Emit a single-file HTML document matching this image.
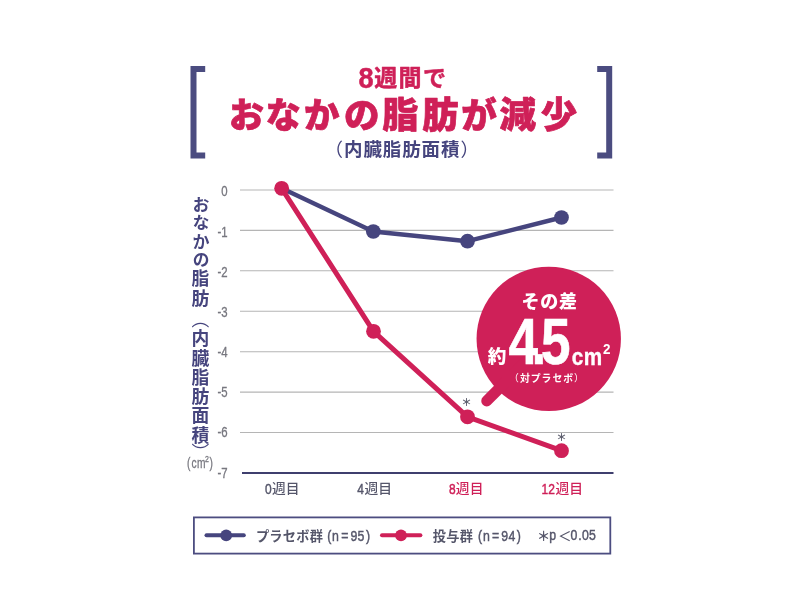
<!DOCTYPE html>
<html lang="ja">
<head>
<meta charset="utf-8">
<title>おなかの脂肪が減少</title>
<style>
html,body{margin:0;padding:0;background:#fff;}
body{width:800px;height:600px;position:relative;overflow:hidden;font-family:"Liberation Sans","Noto Sans CJK JP",sans-serif;}
svg{position:absolute;left:0;top:0;}
.jp{font-family:"Liberation Sans","Noto Sans CJK JP",sans-serif;}
.vlabel{position:absolute;left:184.5px;top:195.5px;width:28px;height:270px;writing-mode:vertical-rl;font-family:"Liberation Sans","Noto Sans CJK JP",sans-serif;font-weight:700;font-size:17.8px;line-height:28px;letter-spacing:1.45px;color:#46457e;white-space:nowrap;}
.vlabel span{display:inline;}
.vlabel .k{font-size:17px;letter-spacing:1.3px;}
.vlabel .p{font-weight:400;}
</style>
</head>
<body>
<svg width="800" height="600" viewBox="0 0 800 600">
  <!-- brackets -->
  <path d="M205.2 69H193.5V155.5H205.2" fill="none" stroke="#4b4c80" stroke-width="6"/>
  <path d="M597.2 69H609.2V155.5H597.2" fill="none" stroke="#4b4c80" stroke-width="6"/>

  <!-- titles -->
  <g fill="#cf2058" font-weight="700" stroke="#cf2058" stroke-width="0.5" stroke-linejoin="round">
    <text transform="translate(358.4 87.9) scale(0.93 1)" font-size="29.2">8</text>
    <text class="jp" x="374.3" y="86.2" font-size="23" letter-spacing="1.3">週間で</text>
  </g>
  <text class="jp" y="127.5" font-weight="900" fill="#cf2058" stroke="#cf2058" stroke-width="0.7" stroke-linejoin="round"><tspan x="228.90" font-size="35">お</tspan><tspan x="265.82" font-size="35">な</tspan><tspan x="304.04" font-size="35.5">か</tspan><tspan x="344.03" font-size="35.5">の</tspan><tspan x="382.28" font-size="36.3">脂</tspan><tspan x="422.13" font-size="36.3">肪</tspan><tspan x="461.22" font-size="35.5">が</tspan><tspan x="499.57" font-size="36.5">減</tspan><tspan x="540.75" font-size="36.3">少</tspan></text>
  <text class="jp" x="324.6" y="155.6" font-size="18.5" font-weight="700" letter-spacing="0.9" fill="#46457e"><tspan font-weight="400">（</tspan>内臓脂肪面積<tspan font-weight="400">）</tspan></text>

  <!-- grid -->
  <g stroke="#b5b5b5" stroke-width="1.1"><line x1="240" x2="613.5" y1="190" y2="190"/><line x1="240" x2="613.5" y1="230.4" y2="230.4"/><line x1="240" x2="613.5" y1="270.8" y2="270.8"/><line x1="240" x2="613.5" y1="311.3" y2="311.3"/><line x1="240" x2="613.5" y1="351.7" y2="351.7"/><line x1="240" x2="613.5" y1="392.1" y2="392.1"/><line x1="240" x2="613.5" y1="432.5" y2="432.5"/></g>
  <line x1="242" x2="613.5" y1="473" y2="473" stroke="#3f3f6e" stroke-width="2.2"/>

  <!-- y ticks -->
  <g font-size="15.4" fill="#77777f" stroke="#77777f" stroke-width="0.35" text-anchor="end" transform="translate(227.6 0) scale(0.74 1)"><text x="0" y="196.50">0</text><text x="0" y="236.66">-1</text><text x="0" y="276.82">-2</text><text x="0" y="316.98">-3</text><text x="0" y="357.14">-4</text><text x="0" y="397.30">-5</text><text x="0" y="437.46">-6</text><text x="0" y="477.62">-7</text></g>
  <text transform="translate(0 467.6) scale(0.74 1)" font-size="13.8" fill="#77777f" stroke="#77777f" stroke-width="0.3"><tspan x="252.6">(</tspan><tspan x="258.9">c</tspan><tspan x="266.1">m</tspan><tspan x="277.2" dy="-5.3" font-size="9.5">2</tspan><tspan x="283.1" dy="5.3">)</tspan></text>

  <!-- x labels -->
  <g fill="#55566a"><text transform="translate(0 493.6) scale(0.8 1)" x="331.27" font-size="15" stroke="#55566a" stroke-width="0.45">0</text><text class="jp" transform="translate(271.9 493.1) scale(1 0.93)" font-size="13.8" font-weight="500" letter-spacing="0.1">週目</text></g>
  <g fill="#55566a"><text transform="translate(0 493.6) scale(0.8 1)" x="446.57" font-size="15" stroke="#55566a" stroke-width="0.45">4</text><text class="jp" transform="translate(364.45 493.1) scale(1 0.93)" font-size="13.8" font-weight="500" letter-spacing="0.1">週目</text></g>
  <g fill="#cf2058"><text transform="translate(0 493.6) scale(0.8 1)" x="561.40" font-size="15" stroke="#cf2058" stroke-width="0.45">8</text><text class="jp" transform="translate(455.85 493.1) scale(1 0.93)" font-size="13.8" font-weight="500" letter-spacing="0.1">週目</text></g>
  <g fill="#cf2058"><text transform="translate(0 493.6) scale(0.8 1)" x="676.80 685.30" font-size="15" stroke="#cf2058" stroke-width="0.45">12</text><text class="jp" transform="translate(555.4 493.1) scale(1 0.93)" font-size="13.8" font-weight="500" letter-spacing="0.1">週目</text></g>

  <!-- bubble -->
  <circle cx="548.75" cy="338.85" r="72.2" fill="#cf2058"/>
  <line x1="486.75" y1="400.9" x2="530" y2="357.65" stroke="#cf2058" stroke-width="11" stroke-linecap="round"/>

  <!-- blue series -->
  <polyline points="281.65,188.3 373.3,231.5 467.5,241.2 561.5,217.5" fill="none" stroke="#46457e" stroke-width="4.4" stroke-linejoin="round"/>
  <g fill="#46457e">
    <circle cx="373.3" cy="231.5" r="7.35"/>
    <circle cx="467.5" cy="241.2" r="7.35"/>
    <circle cx="561.5" cy="217.5" r="7.35"/>
  </g>
  <!-- red series -->
  <polyline points="281.65,188.3 373.5,331.3 467.5,416.8 561.5,450.7" fill="none" stroke="#cf2058" stroke-width="5" stroke-linejoin="round"/>
  <g fill="#cf2058">
    <circle cx="281.65" cy="188.3" r="7.4"/>
    <circle cx="373.5" cy="331.3" r="7.4"/>
    <circle cx="467.5" cy="416.8" r="7.4"/>
    <circle cx="561.5" cy="450.7" r="7.4"/>
  </g>
  <!-- asterisks -->
  <g class="jp" font-size="10.5" font-weight="700" fill="#5b5c6c" text-anchor="middle">
    <text x="466.6" y="405.8">＊</text>
    <text x="561.5" y="440.8">＊</text>
  </g>

  <!-- bubble text -->
  <g fill="#fff" class="jp">
    <text x="549.6" y="308.2" text-anchor="middle" font-size="18" font-weight="900" letter-spacing="0.7">その差</text>
    <text x="487.8" y="363.4" font-size="18.6" font-weight="900">約</text>
    <text transform="translate(0 364.4) scale(0.83 1)" x="612.6 640.5 651.9" font-size="64" font-weight="700" stroke="#fff" stroke-width="0.6">4.5</text>
    <text transform="translate(0 364.8) scale(0.88 1)" x="649.6 663.5" font-size="23.5" font-weight="700" stroke="#fff" stroke-width="0.4">cm</text>
    <text transform="translate(603 354) scale(0.94 1)" font-size="14.3" font-weight="700">2</text>
    <text x="547" y="381.6" text-anchor="middle" font-size="9.8" font-weight="700" letter-spacing="1.05"><tspan font-weight="400">（</tspan>対プラセボ<tspan font-weight="400">）</tspan></text>
  </g>

  <!-- legend -->
  <rect x="193.9" y="517.4" width="416.4" height="36.2" fill="#fff" stroke="#4c4d80" stroke-width="1.8"/>
  <line x1="206.5" x2="243.8" y1="535.3" y2="535.3" stroke="#46457e" stroke-width="4" stroke-linecap="round"/>
  <circle cx="226.2" cy="535.3" r="5.9" fill="#46457e"/>
  <line x1="382" x2="420.4" y1="535.3" y2="535.3" stroke="#cf2058" stroke-width="4" stroke-linecap="round"/>
  <circle cx="401" cy="535.3" r="5.9" fill="#cf2058"/>
  <g fill="#55566a">
    <text class="jp" x="255.9" y="540.7" font-size="13.2" font-weight="700" letter-spacing="0.25">プラセボ群</text>
    <text transform="translate(0 540.9) scale(0.8 1)" x="409.08 415.17 426.48 438.23 446.88 457.47" font-size="15.4" stroke="#55566a" stroke-width="0.45">(n=95)</text>
    <text class="jp" x="432.8" y="540.7" font-size="13.2" font-weight="700" letter-spacing="0.25">投与群</text>
    <text transform="translate(0 540.9) scale(0.8 1)" x="597.51 603.61 614.86 626.60 635.63 645.97" font-size="15.4" stroke="#55566a" stroke-width="0.45">(n=94)</text>
    <text class="jp" x="536.9" y="540.5" font-size="13.2" font-weight="700">＊</text>
    <text transform="translate(0 540.2) scale(0.82 1)" x="669.68" font-size="15" stroke="#55566a" stroke-width="0.45">p</text>
    <text class="jp" x="558.2" y="540.5" font-size="13.2" font-weight="500">＜</text>
    <text transform="translate(0 540.2) scale(0.82 1)" x="695.74 705.11 709.77 718.30" font-size="15" stroke="#55566a" stroke-width="0.45">0.05</text>
  </g>
</svg>
<div class="vlabel"><span class="k">おなかの</span><span style="letter-spacing:1.9px">脂</span><span style="letter-spacing:3.7px">肪</span><span class="p">（</span>内臓脂肪面<span style="letter-spacing:-0.1px">積</span><span class="p">）</span></div>
</body>
</html>
